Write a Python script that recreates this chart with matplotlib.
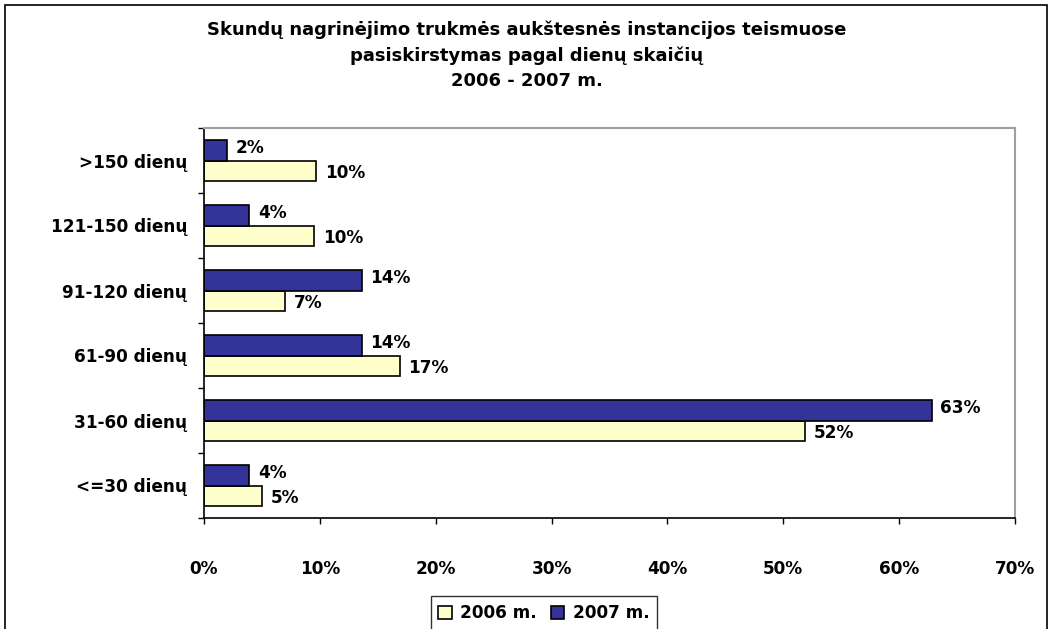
import matplotlib
matplotlib.use("Agg")
import matplotlib.pyplot as plt
from matplotlib.patches import Rectangle
import numpy as np

plt.rcParams['font.family'] = ['DejaVu Sans']
plt.rcParams['font.weight'] = 'bold'

categories = ["<=30 dienų", "31-60 dienų", "61-90 dienų", "91-120 dienų", "121-150 dienų", ">150 dienų"]
vals_2006 = [5.0, 51.9, 16.9, 7.0, 9.5, 9.7]
vals_2007 = [3.9, 62.8, 13.6, 13.6, 3.9, 2.0]
labels_2006 = ["5%", "52%", "17%", "7%", "10%", "10%"]
labels_2007 = ["4%", "63%", "14%", "14%", "4%", "2%"]
xticks = [0, 10, 20, 30, 40, 50, 60, 70]
series_names = ["2006 m.", "2007 m."]
title = "Skundų nagrinėjimo trukmės aukštesnės instancijos teismuose\npasiskirstymas pagal dienų skaičių\n2006 - 2007 m."

FS = 12.2
W, H = 1053, 629
fig = plt.figure(figsize=(W/100, H/100), dpi=100)
ax = fig.add_axes([204/W, 1-518/H, (1015-204)/W, (518-128)/H])

y = np.arange(len(categories))
h = 0.31
b06 = ax.barh(y - h/2, vals_2006, height=h, color="#FFFFCC", edgecolor="black", linewidth=1.2, label=series_names[0])
b07 = ax.barh(y + h/2, vals_2007, height=h, color="#333399", edgecolor="black", linewidth=1.2, label=series_names[1])

for yi, v, t in zip(y, vals_2006, labels_2006):
    ax.text(v + 0.75, yi - h/2 - 0.03, t, va="center", ha="left", fontsize=FS, fontweight="bold")
for yi, v, t in zip(y, vals_2007, labels_2007):
    ax.text(v + 0.75, yi + h/2 + 0.03, t, va="center", ha="left", fontsize=FS, fontweight="bold")

ax.set_xlim(0, 70)
ax.set_ylim(-0.5, len(categories) - 0.5)
ax.set_xticks(xticks)
ax.set_xticklabels([f"{t}%" for t in xticks], fontsize=FS, fontweight="bold")
ax.set_yticks(y)
ax.set_yticklabels(categories, fontsize=FS, fontweight="bold")
ax.tick_params(axis="y", which="major", length=0, pad=12)
ax.set_yticks(np.arange(-0.5, len(categories), 1.0), minor=True)
ax.tick_params(axis="y", which="minor", length=4, direction="out", width=1)
ax.tick_params(axis="x", which="major", length=4, direction="out", width=1, pad=26)

for s in ["top", "right"]:
    ax.spines[s].set_color("#A0A0A0")
    ax.spines[s].set_linewidth(1.5)
for s in ["left", "bottom"]:
    ax.spines[s].set_color("black")
    ax.spines[s].set_linewidth(1.2)

fig.text(0.5, 1 - 55/H, title, ha="center", va="center", fontsize=13, fontweight="bold", linespacing=1.5)

leg = fig.legend(handles=[b06, b07], loc="center", bbox_to_anchor=(544/W, 1 - 613/H), ncol=2,
                 frameon=True, fancybox=False, edgecolor="black",
                 handlelength=0.8, handleheight=0.8, handletextpad=0.5, columnspacing=0.8,
                 borderpad=0.45, prop={"weight": "bold", "size": FS})
leg.get_frame().set_linewidth(1)

fig.patches.append(Rectangle((5/W, -0.1), (1047-5)/W, 1 - 5/H + 0.1, transform=fig.transFigure,
                             fill=False, edgecolor="black", linewidth=1.2))

fig.savefig("out.png", dpi=100)
